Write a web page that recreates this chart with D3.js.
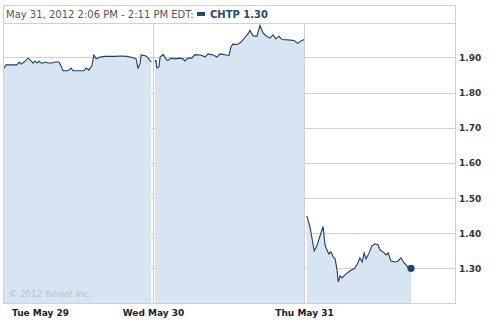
<!DOCTYPE html>
<html>
<head>
<meta charset="utf-8">
<script src="https://cdn.jsdelivr.net/npm/d3@7"></script>
<style>
  body { margin: 0; background: #fff; }
  svg { display: block; font-family: "DejaVu Sans", Verdana, sans-serif; }
</style>
</head>
<body>
<svg id="chart" width="494" height="320"></svg>
<script>
// trading days shown, minutes after the 9:30 open for each sample
const dayLabels = ["Tue May 29", "Wed May 30", "Thu May 31"];
const yTicks = [1.30, 1.40, 1.50, 1.60, 1.70, 1.80, 1.90];

const tueMin = [4, 9, 37, 43, 48, 56, 66, 74, 79, 84, 89, 94, 102, 110, 118, 128, 136, 146, 151, 156, 169, 177, 182, 200, 211, 216, 223, 231, 236, 242, 252, 265, 291, 304, 322, 335, 345, 350, 355, 358, 371, 378, 384];
const tuePx  = [1.869, 1.879, 1.879, 1.887, 1.881, 1.887, 1.898, 1.890, 1.884, 1.890, 1.884, 1.889, 1.883, 1.887, 1.884, 1.884, 1.887, 1.887, 1.876, 1.862, 1.862, 1.870, 1.862, 1.862, 1.862, 1.870, 1.864, 1.876, 1.907, 1.896, 1.901, 1.903, 1.903, 1.904, 1.903, 1.900, 1.896, 1.870, 1.881, 1.907, 1.904, 1.896, 1.887];

const wedMin = [4, 6, 9, 14, 17, 25, 32, 37, 45, 56, 68, 76, 81, 89, 99, 107, 120, 128, 133, 141, 154, 164, 172, 188, 195, 200, 205, 216, 223, 231, 239, 244, 249, 257, 267, 275, 283, 291, 301, 309, 316, 324, 332, 347, 363, 373, 381, 389];
const wedPx  = [1.887, 1.893, 1.870, 1.873, 1.901, 1.908, 1.896, 1.891, 1.898, 1.896, 1.898, 1.896, 1.890, 1.898, 1.898, 1.908, 1.907, 1.904, 1.901, 1.910, 1.907, 1.901, 1.910, 1.907, 1.906, 1.930, 1.938, 1.937, 1.941, 1.950, 1.961, 1.967, 1.977, 1.962, 1.960, 1.991, 1.970, 1.961, 1.955, 1.964, 1.953, 1.960, 1.951, 1.950, 1.948, 1.940, 1.947, 1.951];

const thuMin = [6, 14, 25, 32, 40, 48, 53, 58, 63, 68, 74, 79, 84, 87, 92, 97, 105, 118, 130, 138, 143, 149, 154, 159, 167, 174, 182, 190, 195, 203, 211, 216, 223, 234, 242, 249, 257, 267, 275];
const thuPx  = [1.449, 1.419, 1.350, 1.364, 1.392, 1.419, 1.367, 1.352, 1.341, 1.347, 1.333, 1.327, 1.296, 1.262, 1.279, 1.273, 1.282, 1.293, 1.300, 1.316, 1.330, 1.318, 1.344, 1.327, 1.344, 1.364, 1.370, 1.367, 1.352, 1.347, 1.338, 1.344, 1.321, 1.318, 1.321, 1.330, 1.316, 1.304, 1.300];

const dayMinutes = 390;
const days = [[tueMin, tuePx], [wedMin, wedPx], [thuMin, thuPx]].map(([m, p], i) =>
    m.map((t, j) => ({ t: i * dayMinutes + t, v: p[j] })));

const svg = d3.select("#chart");
const plotL = 3, plotR = 455.5, plotT = 23, plotB = 303.5;

const x = d3.scaleLinear().domain([0, dayMinutes * 3]).range([2.5, plotR]);
const y = d3.scaleLinear().domain([1.2, 2.0]).range([plotB, 22.3]);

const grid = "#d0d0d0";

// horizontal grid
svg.append("g").selectAll("line").data(yTicks).join("line")
    .attr("x1", plotL).attr("x2", plotR)
    .attr("y1", d => Math.round(y(d)) + 0.5).attr("y2", d => Math.round(y(d)) + 0.5)
    .attr("stroke", grid);

// day dividers
svg.append("g").selectAll("line").data([1, 2]).join("line")
    .attr("x1", d => Math.round(x(d * dayMinutes)) + 0.5)
    .attr("x2", d => Math.round(x(d * dayMinutes)) + 0.5)
    .attr("y1", plotT).attr("y2", plotB)
    .attr("stroke", grid);

const area = d3.area().x(d => x(d.t)).y0(plotB).y1(d => y(d.v));
const line = d3.line().x(d => x(d.t)).y(d => y(d.v));

svg.append("g").selectAll("path").data(days).join("path")
    .attr("d", area)
    .attr("fill", "#d6e5f1");

svg.append("text")
    .attr("x", 9).attr("y", 297)
    .attr("font-size", 8.5)
    .attr("fill", "#b3c3d2")
    .text("© 2012 Yahoo! Inc.");

svg.append("g").selectAll("path").data(days).join("path")
    .attr("d", line)
    .attr("fill", "none")
    .attr("stroke", "#1d3d63")
    .attr("stroke-width", 1.1);

const last = days[2][days[2].length - 1];
svg.append("circle")
    .attr("cx", x(last.t)).attr("cy", y(last.v))
    .attr("r", 3.6)
    .attr("fill", "#1c4673");

// frame and header box
svg.append("rect")
    .attr("x", plotL + 0.5).attr("y", 5.5)
    .attr("width", plotR - plotL - 0.5).attr("height", plotB - 5.5)
    .attr("fill", "none").attr("stroke", grid);
svg.append("line")
    .attr("x1", plotL).attr("x2", plotR)
    .attr("y1", plotT + 0.5).attr("y2", plotT + 0.5)
    .attr("stroke", grid);

svg.append("text")
    .attr("x", 6).attr("y", 18)
    .attr("font-size", 10)
    .attr("fill", "#555")
    .text("May 31, 2012 2:06 PM - 2:11 PM EDT:");

svg.append("rect")
    .attr("x", 197).attr("y", 12).attr("width", 8).attr("height", 4)
    .attr("fill", "#1f4a7a");
svg.append("text")
    .attr("x", 210).attr("y", 18)
    .attr("font-size", 10)
    .attr("font-weight", "bold")
    .attr("fill", "#1f4a7a")
    .text("CHTP " + d3.format(".2f")(last.v));

// y labels on the right
svg.append("g").selectAll("text").data(yTicks).join("text")
    .attr("x", 459).attr("y", d => y(d) + 3.5)
    .attr("font-size", 9)
    .attr("font-weight", "bold")
    .attr("fill", "#333")
    .text(d => d3.format(".2f")(d));

// x labels, first one pushed inside the frame
svg.append("g").selectAll("text").data(dayLabels).join("text")
    .attr("x", (d, i) => i === 0 ? 12 : x(i * dayMinutes))
    .attr("y", 316)
    .attr("text-anchor", (d, i) => i === 0 ? "start" : "middle")
    .attr("font-size", 9)
    .attr("font-weight", "bold")
    .attr("fill", "#222")
    .text(d => d);
</script>
</body>
</html>
